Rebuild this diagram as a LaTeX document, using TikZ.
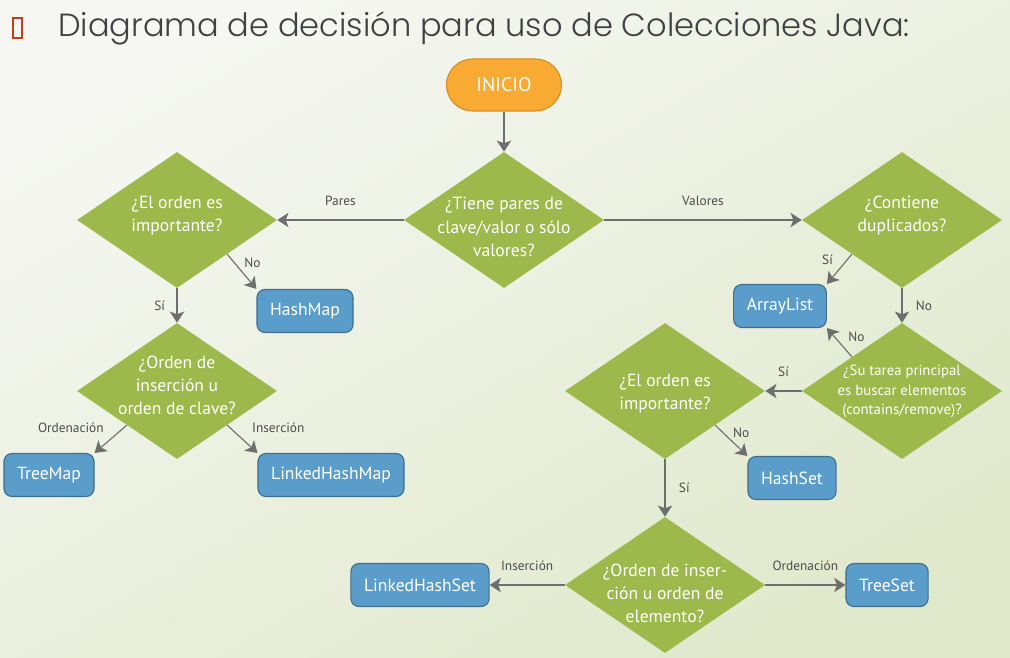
\documentclass[tikz,border=0pt]{standalone}
\usepackage{fontspec}
\setmainfont{PT Sans}
\newfontfamily\titlefont{Poppins Light}
\usetikzlibrary{arrows.meta,positioning,shapes.geometric}
\definecolor{jgreen}{HTML}{9DB84B}
\definecolor{jblue}{HTML}{5B9DCA}
\definecolor{jorange}{HTML}{F8AA33}
\definecolor{jgray}{HTML}{6E6E6E}
\definecolor{jtitle}{HTML}{3F4144}
\definecolor{jbullet}{HTML}{C1401C}
\definecolor{bgtop}{HTML}{F6F7F2}
\definecolor{bgbot}{HTML}{E1E9CD}
\newcommand{\dtxt}[2][-3pt]{\makebox[0pt]{\smash{\raisebox{#1}{\begin{tabular}{@{}c@{}}#2\end{tabular}}}}}
\tikzset{
  flowarrow/.style={-{Stealth[length=2.8mm, width=3.6mm, inset=0.7mm]}, line width=0.8pt, draw=jgray},
  decision/.style={diamond, fill=jgreen, minimum width=50mm, minimum height=34mm,
    inner sep=0pt, text=white, font=\fontsize{12.5}{16.4}\selectfont},
  result/.style={draw=jblue!70!black, fill=jblue, rounded corners=2mm, line width=0.8pt,
    text=white, minimum height=10.75mm, inner xsep=3.3mm, font=\fontsize{12.5}{15}\selectfont},
  startnode/.style={draw=jorange!85!black, fill=jorange, rounded corners=6.5mm, line width=0.8pt,
    text=white, minimum width=28.75mm, minimum height=13mm, font=\fontsize{14}{16}\selectfont},
  smallnote/.style={font=\fontsize{9.5}{11}\selectfont, text=black!70, inner sep=1pt}
}
\begin{document}
\begin{tikzpicture}[x=0.25mm, y=-0.25mm, node distance=10mm, on grid]
    \shade[top color=bgtop, bottom color=bgbot, shading angle=30] (0,0) rectangle (1010,657);
    \useasboundingbox (0,0) rectangle (1010,657);

    % title
    \node[draw=jbullet, line width=0.9pt, minimum width=2.3mm, minimum height=5mm, inner sep=0pt] (bul) at (17.5,28) {};
    \node[anchor=west, inner sep=0pt, text=jtitle, font=\titlefont\fontsize{22.8}{26}\selectfont] (title) at (58,28)
        {Diagrama de decisión para uso de Colecciones Java:};

    \node[startnode] (ini) at (504,85) {INICIO};
    \node[decision, below=33.75mm of ini] (tipo) {\dtxt[-9pt]{¿Tiene pares de\\clave/valor o sólo\\valores?}};

    % pares
    \node[decision, left=81.75mm of tipo] (ordmap) {\dtxt[0pt]{¿El orden es\\importante?}};
    \node[result, below right=22.75mm and 32mm of ordmap] (hmap) {HashMap};
    \node[decision, below=42.75mm of ordmap] (insmap) {\dtxt[0pt]{¿Orden de\\inserción u\\orden de clave?}};
    \node[result, below left=21mm and 32mm of insmap] (tmap) {TreeMap};
    \node[result, below right=21mm and 38.5mm of insmap] (lhmap) {LinkedHashMap};

    % valores
    \node[decision, right=99.5mm of tipo] (dup) {\dtxt[0pt]{¿Contiene\\duplicados?}};
    \node[result, below left=21.5mm and 30.5mm of dup] (alist) {ArrayList};
    \node[decision, below=42.75mm of dup, font=\fontsize{10.5}{14}\selectfont] (busca)
        {\dtxt{¿Su tarea principal\\es buscar elementos\\(contains/remove)?}};
    \node[decision, left=59.25mm of busca] (ordset) {\dtxt[-4.5pt]{¿El orden es\\importante?}};
    \node[result, below right=21.75mm and 31.75mm of ordset] (hset) {HashSet};
    \node[decision, below=48.5mm of ordset] (insset) {\dtxt[-10pt]{¿Orden de inser-\\ción u orden de\\elemento?}};
    \node[result, left=61.25mm of insset] (lhset) {LinkedHashSet};
    \node[result, right=55.5mm of insset] (tset) {TreeSet};

    \draw[flowarrow] (ini) -- (tipo);
    \draw[flowarrow] (tipo.west) -- node[smallnote, above=3mm] {Pares} (ordmap.east);
    \draw[flowarrow] (ordmap.south east) -- node[smallnote, pos=0.25, right=2mm] {No} (hmap.north west);
    \draw[flowarrow] (ordmap.south) -- node[smallnote, left=2.5mm] {Sí} (insmap.north);
    \draw[flowarrow] (insmap.south west) -- node[smallnote, pos=0.1, left=4.5mm] {Ordenación} (tmap.north east);
    \draw[flowarrow] (insmap.south east) -- node[smallnote, pos=0.1, right=5mm] {Inserción} (lhmap.north west);

    \draw[flowarrow] (tipo.east) -- node[smallnote, above=3mm] {Valores} (dup.west);
    \draw[flowarrow] (dup.south west) -- node[smallnote, pos=0.2, left=3mm] {Sí} (alist.north east);
    \draw[flowarrow] (dup.south) -- node[smallnote, right=3mm] {No} (busca.north);
    \draw[flowarrow] (busca.north west) -- node[smallnote, pos=0.7, right=3mm] {No} (alist.south east);
    \draw[flowarrow] (busca.west) -- node[smallnote, above=3mm] {Sí} (ordset.east);
    \draw[flowarrow] (ordset.south east) -- node[smallnote, pos=0.25, right=2mm] {No} (hset.north west);
    \draw[flowarrow] (ordset.south) -- node[smallnote, right=3mm] {Sí} (insset.north);
    \draw[flowarrow] (insset.west) -- node[smallnote, above=3mm] {Inserción} (lhset.east);
    \draw[flowarrow] (insset.east) -- node[smallnote, above=3mm] {Ordenación} (tset.west);
\end{tikzpicture}
\end{document}
